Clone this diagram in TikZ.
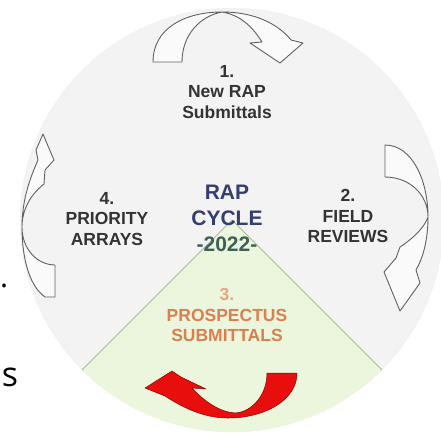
\documentclass[tikz,border=0pt]{standalone}
\usepackage{fontspec}
\setmainfont{Liberation Sans}
\newfontfamily\pagefont{Open Sans}
\usetikzlibrary{positioning}
\definecolor{discgray}{RGB}{243,243,243}
\definecolor{sectgreen}{RGB}{236,246,220}
\definecolor{sectline}{RGB}{170,185,150}
\definecolor{cyclenavy}{RGB}{52,62,112}
\definecolor{yeargreen}{RGB}{62,96,88}
\definecolor{prosorange}{RGB}{218,128,80}
\definecolor{arrowred}{RGB}{232,14,14}
\definecolor{arrowdark}{RGB}{200,0,0}

\begin{document}
\begin{tikzpicture}[x=1pt, y=-1pt,
    outarrow/.style={draw=black!62, line width=0.9pt, fill=white, fill opacity=0.6, draw opacity=1, line join=round},
    lbl/.style={align=center, text=black!80, font=\bfseries\fontsize{17.5}{20.5}\selectfont},
    centre/.style={align=center, text=cyclenavy, font=\bfseries\fontsize{21}{26}\selectfont}]
  \useasboundingbox (0,0) rectangle (441,432);
  % disc and green sector
  \fill[discgray] (232,220) circle [radius=212pt];
  \draw[black!5, line width=1pt] (232,220) circle [radius=211.5pt];
  \fill[sectgreen] (232,220) -- ++(225:212pt) arc[start angle=225, end angle=315, radius=212pt] -- cycle;
  \draw[sectline, line width=0.8pt] (232,220) ++(225:212pt) -- (232,220) -- ++(315:212pt);
  % outline arrows (1, 2, 4)
  \draw[outarrow] (153,62) .. controls (153,28) and (185,12) .. (222,12) .. controls (255,12) and (278,24) .. (291,40) -- (303,43) -- (280,63) -- (250,43) -- (262,42) .. controls (252,26) and (240,15) .. (222,12) .. controls (200,16) and (182,35) .. (182,62) -- cycle;
  \draw[outarrow] (385,145) .. controls (412,145) and (428,180) .. (428,217) .. controls (428,240) and (423,258) .. (416,270) -- (420,283) -- (400,311) -- (384,272) -- (396,258) -- (400,247) .. controls (418,235) and (425,225) .. (428,217) .. controls (428,195) and (410,177) .. (385,177) -- cycle;
  \draw[outarrow] (55,297) -- (45,297) .. controls (28,285) and (22,255) .. (22,227) .. controls (22,200) and (30,178) .. (38,160) -- (36,150) -- (43,134) -- (48,146) -- (54,160) -- (45,170) -- (44,184) .. controls (30,195) and (22,210) .. (22,227) .. controls (22,250) and (38,265) .. (55,265) -- cycle;
  % red arrow
  \filldraw[fill=arrowred, draw=arrowdark!70!black, line width=0.5pt, line join=round] (145,388) -- (172,371) -- (181,377) -- (206,389) -- (192,388) .. controls (205,402) and (220,412) .. (235,413) .. controls (252,412) and (267,395) .. (267,373) -- (297,373) .. controls (297,400) and (265,418) .. (228,418) .. controls (203,418) and (182,407) .. (165,396) -- cycle;
  % labels
  \node[lbl] (newrap) at (227,92) {1.\\New RAP\\Submittals};
  \node[lbl] (field) at (348,216) {2.\\FIELD\\REVIEWS};
  \node[lbl] (priority) at (107,219) {4.\\PRIORITY\\ARRAYS};
  \node[lbl, text=prosorange] (prospectus) at (227,315) {{\color{prosorange!70}3.}\\PROSPECTUS\\SUBMITTALS};
  \node[centre] (cycle) at (227,218) {RAP\\CYCLE\\{\color{yeargreen}-2022-}};
  % cut-off page text
  \node[inner sep=0, font=\pagefont\fontsize{30}{30}\selectfont] (dot) at (4,286) {.};
  \node[inner sep=0, font=\pagefont\fontsize{34}{34}\selectfont] (ess) at (10,377) {s};
\end{tikzpicture}
\end{document}
